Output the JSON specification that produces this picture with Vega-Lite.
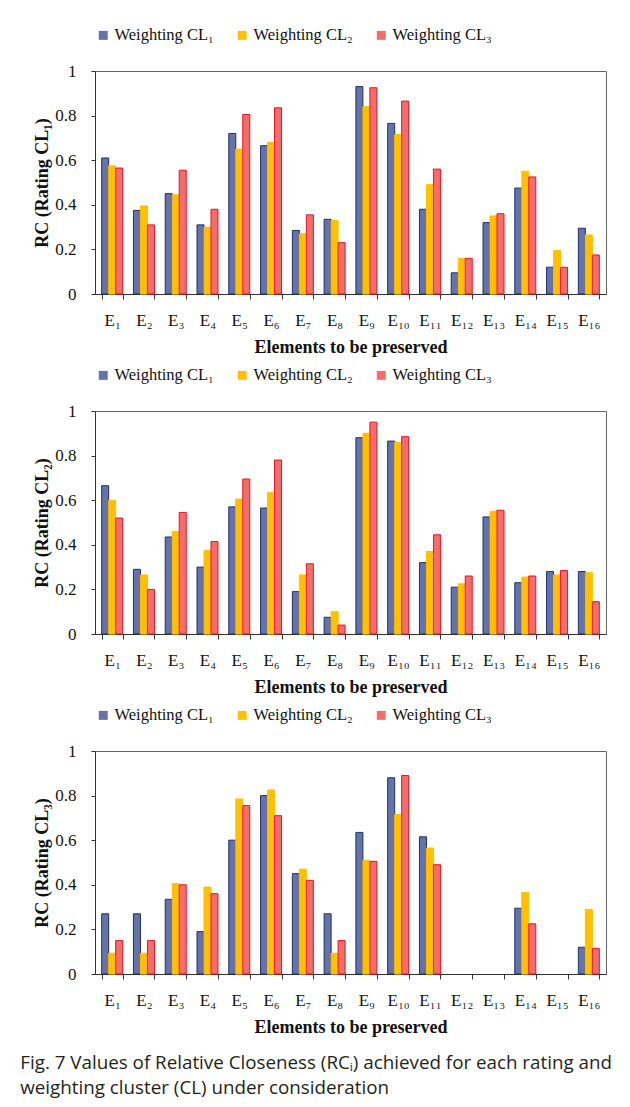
{
  "$schema": "https://vega.github.io/schema/vega-lite/v6.json",
  "background": "white",
  "padding": {"left": 20, "top": 26, "right": 10, "bottom": 10},
  "config": {
    "view": {"stroke": "#666", "strokeWidth": 1},
    "font": "Liberation Serif",
    "legend": {"labelFont": "Liberation Serif"},
    "axis": {"labelFont": "Liberation Serif", "titleFont": "Liberation Serif", "labelColor": "#111", "titleColor": "#111", "domainColor": "#333", "tickColor": "#333", "grid": false}
  },
  "title": {"text": ["Fig. 7  Values of Relative Closeness (RCᵢ) achieved for each rating and", "weighting cluster (CL) under consideration"], "orient": "bottom", "anchor": "start", "font": "Open Sans", "fontSize": 18.8, "fontWeight": "normal", "color": "#231f20", "offset": 17, "lineHeight": 25, "dx": -13},
  "data": {"values": [
    {"p":1,"e":"E₁","s":"Weighting CL₁","v":0.61},{"p":1,"e":"E₁","s":"Weighting CL₂","v":0.575},{"p":1,"e":"E₁","s":"Weighting CL₃","v":0.565},
    {"p":1,"e":"E₂","s":"Weighting CL₁","v":0.375},{"p":1,"e":"E₂","s":"Weighting CL₂","v":0.395},{"p":1,"e":"E₂","s":"Weighting CL₃","v":0.31},
    {"p":1,"e":"E₃","s":"Weighting CL₁","v":0.45},{"p":1,"e":"E₃","s":"Weighting CL₂","v":0.445},{"p":1,"e":"E₃","s":"Weighting CL₃","v":0.555},
    {"p":1,"e":"E₄","s":"Weighting CL₁","v":0.31},{"p":1,"e":"E₄","s":"Weighting CL₂","v":0.30},{"p":1,"e":"E₄","s":"Weighting CL₃","v":0.38},
    {"p":1,"e":"E₅","s":"Weighting CL₁","v":0.72},{"p":1,"e":"E₅","s":"Weighting CL₂","v":0.65},{"p":1,"e":"E₅","s":"Weighting CL₃","v":0.805},
    {"p":1,"e":"E₆","s":"Weighting CL₁","v":0.665},{"p":1,"e":"E₆","s":"Weighting CL₂","v":0.68},{"p":1,"e":"E₆","s":"Weighting CL₃","v":0.835},
    {"p":1,"e":"E₇","s":"Weighting CL₁","v":0.285},{"p":1,"e":"E₇","s":"Weighting CL₂","v":0.27},{"p":1,"e":"E₇","s":"Weighting CL₃","v":0.355},
    {"p":1,"e":"E₈","s":"Weighting CL₁","v":0.335},{"p":1,"e":"E₈","s":"Weighting CL₂","v":0.33},{"p":1,"e":"E₈","s":"Weighting CL₃","v":0.23},
    {"p":1,"e":"E₉","s":"Weighting CL₁","v":0.93},{"p":1,"e":"E₉","s":"Weighting CL₂","v":0.84},{"p":1,"e":"E₉","s":"Weighting CL₃","v":0.925},
    {"p":1,"e":"E₁₀","s":"Weighting CL₁","v":0.765},{"p":1,"e":"E₁₀","s":"Weighting CL₂","v":0.715},{"p":1,"e":"E₁₀","s":"Weighting CL₃","v":0.865},
    {"p":1,"e":"E₁₁","s":"Weighting CL₁","v":0.38},{"p":1,"e":"E₁₁","s":"Weighting CL₂","v":0.49},{"p":1,"e":"E₁₁","s":"Weighting CL₃","v":0.56},
    {"p":1,"e":"E₁₂","s":"Weighting CL₁","v":0.095},{"p":1,"e":"E₁₂","s":"Weighting CL₂","v":0.16},{"p":1,"e":"E₁₂","s":"Weighting CL₃","v":0.16},
    {"p":1,"e":"E₁₃","s":"Weighting CL₁","v":0.32},{"p":1,"e":"E₁₃","s":"Weighting CL₂","v":0.35},{"p":1,"e":"E₁₃","s":"Weighting CL₃","v":0.36},
    {"p":1,"e":"E₁₄","s":"Weighting CL₁","v":0.475},{"p":1,"e":"E₁₄","s":"Weighting CL₂","v":0.55},{"p":1,"e":"E₁₄","s":"Weighting CL₃","v":0.525},
    {"p":1,"e":"E₁₅","s":"Weighting CL₁","v":0.12},{"p":1,"e":"E₁₅","s":"Weighting CL₂","v":0.195},{"p":1,"e":"E₁₅","s":"Weighting CL₃","v":0.12},
    {"p":1,"e":"E₁₆","s":"Weighting CL₁","v":0.295},{"p":1,"e":"E₁₆","s":"Weighting CL₂","v":0.265},{"p":1,"e":"E₁₆","s":"Weighting CL₃","v":0.175},
    {"p":2,"e":"E₁","s":"Weighting CL₁","v":0.665},{"p":2,"e":"E₁","s":"Weighting CL₂","v":0.6},{"p":2,"e":"E₁","s":"Weighting CL₃","v":0.52},
    {"p":2,"e":"E₂","s":"Weighting CL₁","v":0.29},{"p":2,"e":"E₂","s":"Weighting CL₂","v":0.265},{"p":2,"e":"E₂","s":"Weighting CL₃","v":0.2},
    {"p":2,"e":"E₃","s":"Weighting CL₁","v":0.435},{"p":2,"e":"E₃","s":"Weighting CL₂","v":0.46},{"p":2,"e":"E₃","s":"Weighting CL₃","v":0.545},
    {"p":2,"e":"E₄","s":"Weighting CL₁","v":0.3},{"p":2,"e":"E₄","s":"Weighting CL₂","v":0.375},{"p":2,"e":"E₄","s":"Weighting CL₃","v":0.415},
    {"p":2,"e":"E₅","s":"Weighting CL₁","v":0.57},{"p":2,"e":"E₅","s":"Weighting CL₂","v":0.605},{"p":2,"e":"E₅","s":"Weighting CL₃","v":0.695},
    {"p":2,"e":"E₆","s":"Weighting CL₁","v":0.565},{"p":2,"e":"E₆","s":"Weighting CL₂","v":0.635},{"p":2,"e":"E₆","s":"Weighting CL₃","v":0.78},
    {"p":2,"e":"E₇","s":"Weighting CL₁","v":0.19},{"p":2,"e":"E₇","s":"Weighting CL₂","v":0.265},{"p":2,"e":"E₇","s":"Weighting CL₃","v":0.315},
    {"p":2,"e":"E₈","s":"Weighting CL₁","v":0.075},{"p":2,"e":"E₈","s":"Weighting CL₂","v":0.1},{"p":2,"e":"E₈","s":"Weighting CL₃","v":0.04},
    {"p":2,"e":"E₉","s":"Weighting CL₁","v":0.88},{"p":2,"e":"E₉","s":"Weighting CL₂","v":0.9},{"p":2,"e":"E₉","s":"Weighting CL₃","v":0.95},
    {"p":2,"e":"E₁₀","s":"Weighting CL₁","v":0.865},{"p":2,"e":"E₁₀","s":"Weighting CL₂","v":0.86},{"p":2,"e":"E₁₀","s":"Weighting CL₃","v":0.885},
    {"p":2,"e":"E₁₁","s":"Weighting CL₁","v":0.32},{"p":2,"e":"E₁₁","s":"Weighting CL₂","v":0.37},{"p":2,"e":"E₁₁","s":"Weighting CL₃","v":0.445},
    {"p":2,"e":"E₁₂","s":"Weighting CL₁","v":0.21},{"p":2,"e":"E₁₂","s":"Weighting CL₂","v":0.225},{"p":2,"e":"E₁₂","s":"Weighting CL₃","v":0.26},
    {"p":2,"e":"E₁₃","s":"Weighting CL₁","v":0.525},{"p":2,"e":"E₁₃","s":"Weighting CL₂","v":0.55},{"p":2,"e":"E₁₃","s":"Weighting CL₃","v":0.555},
    {"p":2,"e":"E₁₄","s":"Weighting CL₁","v":0.23},{"p":2,"e":"E₁₄","s":"Weighting CL₂","v":0.255},{"p":2,"e":"E₁₄","s":"Weighting CL₃","v":0.26},
    {"p":2,"e":"E₁₅","s":"Weighting CL₁","v":0.28},{"p":2,"e":"E₁₅","s":"Weighting CL₂","v":0.265},{"p":2,"e":"E₁₅","s":"Weighting CL₃","v":0.285},
    {"p":2,"e":"E₁₆","s":"Weighting CL₁","v":0.28},{"p":2,"e":"E₁₆","s":"Weighting CL₂","v":0.275},{"p":2,"e":"E₁₆","s":"Weighting CL₃","v":0.145},
    {"p":3,"e":"E₁","s":"Weighting CL₁","v":0.27},{"p":3,"e":"E₁","s":"Weighting CL₂","v":0.093},{"p":3,"e":"E₁","s":"Weighting CL₃","v":0.15},
    {"p":3,"e":"E₂","s":"Weighting CL₁","v":0.27},{"p":3,"e":"E₂","s":"Weighting CL₂","v":0.093},{"p":3,"e":"E₂","s":"Weighting CL₃","v":0.15},
    {"p":3,"e":"E₃","s":"Weighting CL₁","v":0.335},{"p":3,"e":"E₃","s":"Weighting CL₂","v":0.405},{"p":3,"e":"E₃","s":"Weighting CL₃","v":0.4},
    {"p":3,"e":"E₄","s":"Weighting CL₁","v":0.19},{"p":3,"e":"E₄","s":"Weighting CL₂","v":0.39},{"p":3,"e":"E₄","s":"Weighting CL₃","v":0.36},
    {"p":3,"e":"E₅","s":"Weighting CL₁","v":0.6},{"p":3,"e":"E₅","s":"Weighting CL₂","v":0.785},{"p":3,"e":"E₅","s":"Weighting CL₃","v":0.755},
    {"p":3,"e":"E₆","s":"Weighting CL₁","v":0.8},{"p":3,"e":"E₆","s":"Weighting CL₂","v":0.825},{"p":3,"e":"E₆","s":"Weighting CL₃","v":0.71},
    {"p":3,"e":"E₇","s":"Weighting CL₁","v":0.45},{"p":3,"e":"E₇","s":"Weighting CL₂","v":0.47},{"p":3,"e":"E₇","s":"Weighting CL₃","v":0.42},
    {"p":3,"e":"E₈","s":"Weighting CL₁","v":0.27},{"p":3,"e":"E₈","s":"Weighting CL₂","v":0.093},{"p":3,"e":"E₈","s":"Weighting CL₃","v":0.15},
    {"p":3,"e":"E₉","s":"Weighting CL₁","v":0.635},{"p":3,"e":"E₉","s":"Weighting CL₂","v":0.51},{"p":3,"e":"E₉","s":"Weighting CL₃","v":0.505},
    {"p":3,"e":"E₁₀","s":"Weighting CL₁","v":0.88},{"p":3,"e":"E₁₀","s":"Weighting CL₂","v":0.715},{"p":3,"e":"E₁₀","s":"Weighting CL₃","v":0.89},
    {"p":3,"e":"E₁₁","s":"Weighting CL₁","v":0.615},{"p":3,"e":"E₁₁","s":"Weighting CL₂","v":0.565},{"p":3,"e":"E₁₁","s":"Weighting CL₃","v":0.49},
    {"p":3,"e":"E₁₂","s":"Weighting CL₁","v":0},{"p":3,"e":"E₁₂","s":"Weighting CL₂","v":0},{"p":3,"e":"E₁₂","s":"Weighting CL₃","v":0},
    {"p":3,"e":"E₁₃","s":"Weighting CL₁","v":0},{"p":3,"e":"E₁₃","s":"Weighting CL₂","v":0},{"p":3,"e":"E₁₃","s":"Weighting CL₃","v":0},
    {"p":3,"e":"E₁₄","s":"Weighting CL₁","v":0.295},{"p":3,"e":"E₁₄","s":"Weighting CL₂","v":0.365},{"p":3,"e":"E₁₄","s":"Weighting CL₃","v":0.225},
    {"p":3,"e":"E₁₅","s":"Weighting CL₁","v":0},{"p":3,"e":"E₁₅","s":"Weighting CL₂","v":0},{"p":3,"e":"E₁₅","s":"Weighting CL₃","v":0},
    {"p":3,"e":"E₁₆","s":"Weighting CL₁","v":0.12},{"p":3,"e":"E₁₆","s":"Weighting CL₂","v":0.29},{"p":3,"e":"E₁₆","s":"Weighting CL₃","v":0.115}
  ]},
  "spacing": 9,
  "resolve": {"scale": {"fill": "independent", "stroke": "independent"}, "legend": {"fill": "independent"}},
  "vconcat": [
    {
      "transform": [{"filter": "datum.p == 1 && datum.v > 0"}],
      "width": 511, "height": 223,
      "mark": {"type": "bar", "strokeWidth": 1},
      "encoding": {
        "x": {"field": "e", "type": "nominal", "sort": null, "scale": {"domain": ["E₁","E₂","E₃","E₄","E₅","E₆","E₇","E₈","E₉","E₁₀","E₁₁","E₁₂","E₁₃","E₁₄","E₁₅","E₁₆"], "paddingInner": 0.34, "paddingOuter": 0.21}, "axis": {"title": "Elements to be preserved", "labelAngle": 0, "labelFontSize": 17, "labelPadding": 13, "tickSize": 5, "tickBand": "extent", "titleFontSize": 18, "titleFontWeight": "bold", "titlePadding": 10}},
        "xOffset": {"field": "s", "type": "nominal", "sort": null, "scale": {"domain": ["Weighting CL₁", "Weighting CL₂", "Weighting CL₃"]}},
        "y": {"field": "v", "type": "quantitative", "scale": {"domain": [0, 1]}, "axis": {"values": [0, 0.2, 0.4, 0.6, 0.8, 1], "format": "~g", "title": "RC (Rating CL₁)", "labelFontSize": 17, "labelPadding": 15, "tickSize": 4, "titleFontSize": 18, "titleFontWeight": "bold", "titlePadding": 3}},
        "fill": {"field": "s", "type": "nominal", "sort": null, "scale": {"domain": ["Weighting CL₁", "Weighting CL₂", "Weighting CL₃"], "range": ["#6573a8", "#FFC000", "#F26D6D"]}, "legend": {"orient": "top", "direction": "horizontal", "title": null, "symbolType": "square", "symbolSize": 80, "symbolStrokeWidth": 0, "labelFont": "Liberation Serif", "labelFontSize": 16.5, "labelColor": "#111", "labelOffset": 3, "columnPadding": 20, "offset": 27}},
        "stroke": {"field": "s", "type": "nominal", "sort": null, "scale": {"domain": ["Weighting CL₁", "Weighting CL₂", "Weighting CL₃"], "range": ["#1F2F6F", "#FFC000", "#E8161C"]}, "legend": null}
      }
    },
    {
      "transform": [{"filter": "datum.p == 2 && datum.v > 0"}],
      "width": 511, "height": 223,
      "mark": {"type": "bar", "strokeWidth": 1},
      "encoding": {
        "x": {"field": "e", "type": "nominal", "sort": null, "scale": {"domain": ["E₁","E₂","E₃","E₄","E₅","E₆","E₇","E₈","E₉","E₁₀","E₁₁","E₁₂","E₁₃","E₁₄","E₁₅","E₁₆"], "paddingInner": 0.34, "paddingOuter": 0.21}, "axis": {"title": "Elements to be preserved", "labelAngle": 0, "labelFontSize": 17, "labelPadding": 13, "tickSize": 5, "tickBand": "extent", "titleFontSize": 18, "titleFontWeight": "bold", "titlePadding": 10}},
        "xOffset": {"field": "s", "type": "nominal", "sort": null, "scale": {"domain": ["Weighting CL₁", "Weighting CL₂", "Weighting CL₃"]}},
        "y": {"field": "v", "type": "quantitative", "scale": {"domain": [0, 1]}, "axis": {"values": [0, 0.2, 0.4, 0.6, 0.8, 1], "format": "~g", "title": "RC (Rating CL₂)", "labelFontSize": 17, "labelPadding": 15, "tickSize": 4, "titleFontSize": 18, "titleFontWeight": "bold", "titlePadding": 3}},
        "fill": {"field": "s", "type": "nominal", "sort": null, "scale": {"domain": ["Weighting CL₁", "Weighting CL₂", "Weighting CL₃"], "range": ["#6573a8", "#FFC000", "#F26D6D"]}, "legend": {"orient": "top", "direction": "horizontal", "title": null, "symbolType": "square", "symbolSize": 80, "symbolStrokeWidth": 0, "labelFont": "Liberation Serif", "labelFontSize": 16.5, "labelColor": "#111", "labelOffset": 3, "columnPadding": 20, "offset": 27}},
        "stroke": {"field": "s", "type": "nominal", "sort": null, "scale": {"domain": ["Weighting CL₁", "Weighting CL₂", "Weighting CL₃"], "range": ["#1F2F6F", "#FFC000", "#E8161C"]}, "legend": null}
      }
    },
    {
      "transform": [{"filter": "datum.p == 3 && datum.v > 0"}],
      "width": 511, "height": 223,
      "mark": {"type": "bar", "strokeWidth": 1},
      "encoding": {
        "x": {"field": "e", "type": "nominal", "sort": null, "scale": {"domain": ["E₁","E₂","E₃","E₄","E₅","E₆","E₇","E₈","E₉","E₁₀","E₁₁","E₁₂","E₁₃","E₁₄","E₁₅","E₁₆"], "paddingInner": 0.34, "paddingOuter": 0.21}, "axis": {"title": "Elements to be preserved", "labelAngle": 0, "labelFontSize": 17, "labelPadding": 13, "tickSize": 5, "tickBand": "extent", "titleFontSize": 18, "titleFontWeight": "bold", "titlePadding": 10}},
        "xOffset": {"field": "s", "type": "nominal", "sort": null, "scale": {"domain": ["Weighting CL₁", "Weighting CL₂", "Weighting CL₃"]}},
        "y": {"field": "v", "type": "quantitative", "scale": {"domain": [0, 1]}, "axis": {"values": [0, 0.2, 0.4, 0.6, 0.8, 1], "format": "~g", "title": "RC (Rating CL₃)", "labelFontSize": 17, "labelPadding": 15, "tickSize": 4, "titleFontSize": 18, "titleFontWeight": "bold", "titlePadding": 3}},
        "fill": {"field": "s", "type": "nominal", "sort": null, "scale": {"domain": ["Weighting CL₁", "Weighting CL₂", "Weighting CL₃"], "range": ["#6573a8", "#FFC000", "#F26D6D"]}, "legend": {"orient": "top", "direction": "horizontal", "title": null, "symbolType": "square", "symbolSize": 80, "symbolStrokeWidth": 0, "labelFont": "Liberation Serif", "labelFontSize": 16.5, "labelColor": "#111", "labelOffset": 3, "columnPadding": 20, "offset": 27}},
        "stroke": {"field": "s", "type": "nominal", "sort": null, "scale": {"domain": ["Weighting CL₁", "Weighting CL₂", "Weighting CL₃"], "range": ["#1F2F6F", "#FFC000", "#E8161C"]}, "legend": null}
      }
    }
  ]
}
